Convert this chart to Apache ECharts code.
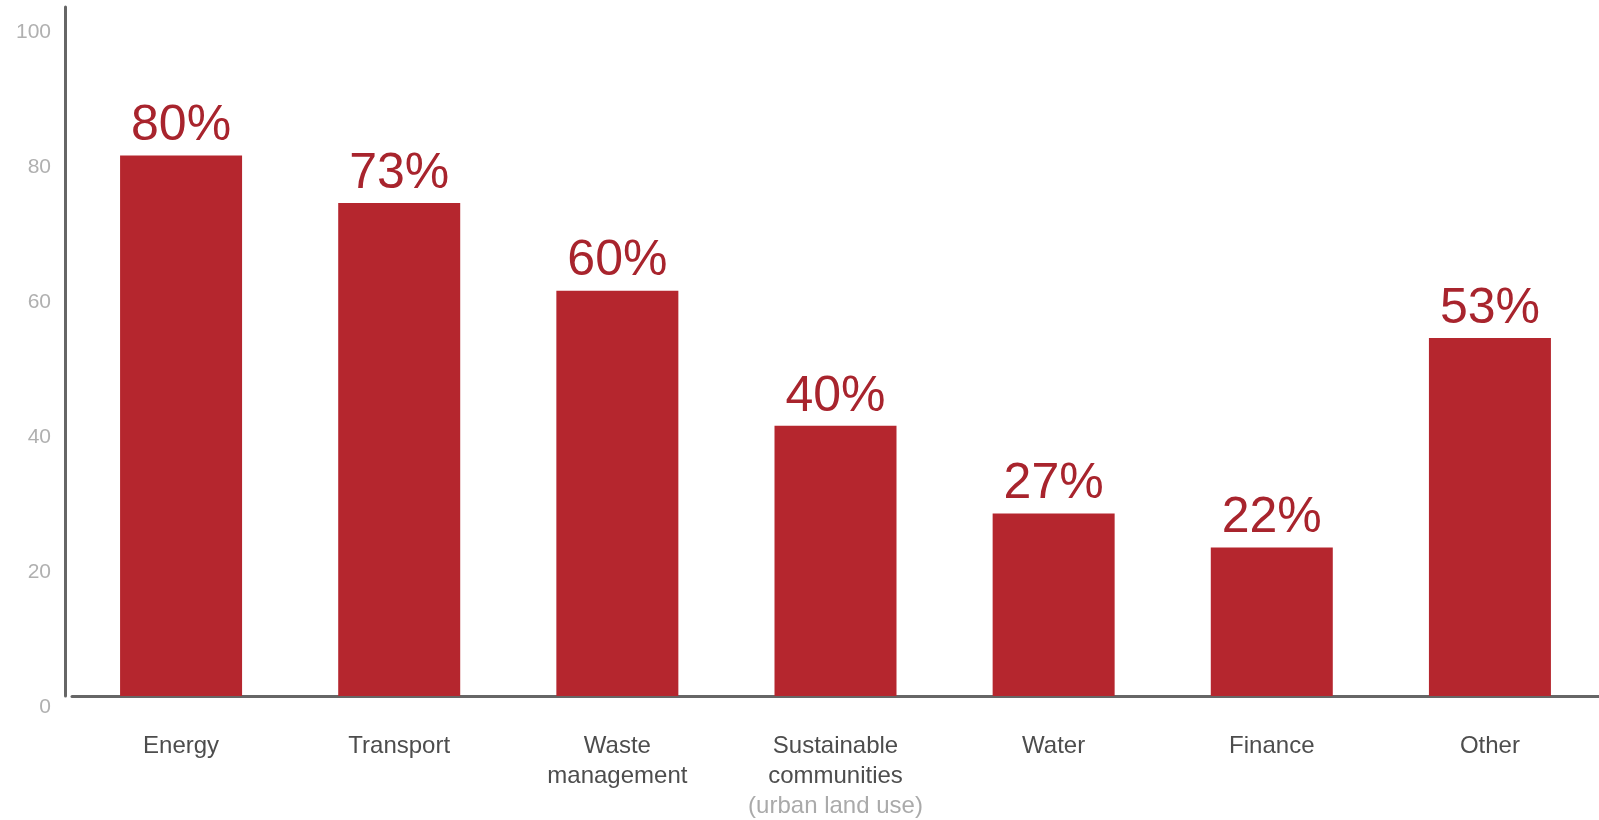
<!DOCTYPE html>
<html>
<head>
<meta charset="utf-8">
<script src="https://cdn.jsdelivr.net/npm/echarts@6/dist/echarts.min.js"></script>
<style>
html,body{margin:0;padding:0;background:#fff;}
#chart{width:1599px;height:820px;}
</style>
</head>
<body>
<div id="chart"></div>
<script>
var categories = ['Energy', 'Transport', 'Waste\nmanagement', 'Sustainable\ncommunities\n(urban land use)', 'Water', 'Finance', 'Other'];
var values = [80, 73, 60, 40, 27, 22, 53];
var yTicks = [0, 20, 40, 60, 80, 100];

var chart = echarts.init(document.getElementById('chart'));
chart.setOption({
  animation: false,
  backgroundColor: '#ffffff',
  grid: { left: 72, right: 0, top: 7, bottom: 124, containLabel: false },
  xAxis: {
    type: 'category',
    data: categories,
    axisLine: { show: true, lineStyle: { color: '#666666', width: 3 } },
    axisTick: { show: false },
    axisLabel: {
      interval: 0,
      margin: 35,
      formatter: function (v) {
        return v.split('\n').map(function (l) {
          return l.charAt(0) === '(' ? '{sub|' + l + '}' : '{main|' + l + '}';
        }).join('\n');
      },
      rich: {
        main: { fontFamily: 'Liberation Sans', fontSize: 24, color: '#4d4d4d', lineHeight: 30 },
        sub: { fontFamily: 'Liberation Sans', fontSize: 24, color: '#aaaaaa', lineHeight: 30 }
      }
    }
  },
  yAxis: {
    type: 'value',
    min: 0,
    max: 102,
    interval: 20,
    offset: 7,
    axisLine: { show: true, lineStyle: { color: '#666666', width: 3 } },
    axisTick: { show: false },
    splitLine: { show: false },
    axisLabel: {
      showMaxLabel: false,
      margin: 14,
      formatter: function (v) { return yTicks.indexOf(v) >= 0 ? '{t|' + v + '}' : ''; },
      rich: {
        t: { fontFamily: 'Liberation Sans', fontSize: 21, color: '#b0b0b0', padding: [23, 0, 0, 0] }
      }
    }
  },
  series: [{
    type: 'bar',
    data: values,
    barWidth: 122,
    itemStyle: { color: '#b5262e' },
    label: {
      show: true,
      position: 'top',
      distance: 4,
      formatter: '{c}%',
      fontFamily: 'Liberation Sans',
      fontSize: 50,
      color: '#a8242d'
    }
  }]
});
</script>
</body>
</html>
